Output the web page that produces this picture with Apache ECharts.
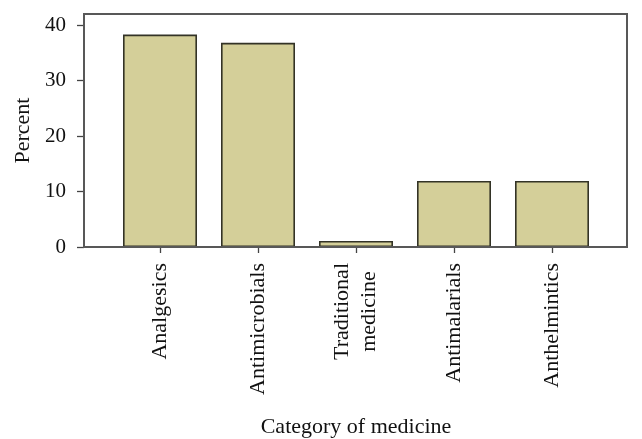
<!DOCTYPE html>
<html>
<head>
<meta charset="utf-8">
<script src="https://cdn.jsdelivr.net/npm/echarts@6/dist/echarts.min.js"></script>
<style>html,body{margin:0;padding:0;background:#fff;}#c{width:642px;height:439px;}</style>
</head>
<body>
<div id="c"></div>
<script>
const categories = ['Analgesics', 'Antimicrobials', 'Traditional\nmedicine', 'Antimalarials', 'Anthelmintics'];
const percentValues = [38.3, 36.8, 1.1, 11.9, 11.9];
const yTicks = [0, 10, 20, 30, 40];

const FONT = '"Liberation Serif", "DejaVu Serif", serif';
const chart = echarts.init(document.getElementById('c'), null, {renderer: 'canvas'});
chart.setOption({
  animation: false,
  backgroundColor: '#fff',
  grid: [
    {left: 84, top: 14, width: 543, height: 233, show: true, borderColor: '#585858', borderWidth: 2, backgroundColor: 'transparent', z: 3, outerBoundsMode: 'none', containLabel: false},
    {left: 111, top: 14, width: 490, height: 233, outerBoundsMode: 'none', containLabel: false}
  ],
  xAxis: [
    {gridIndex: 0, type: 'value', show: false, min: 0, max: 1},
    {
      gridIndex: 1, type: 'category', data: categories,
      axisLine: {show: false},
      axisTick: {show: true, alignWithLabel: true, length: 6, lineStyle: {color: '#444', width: 1.3}},
      axisLabel: {
        rotate: 90, margin: 16, color: '#111', fontFamily: FONT, fontSize: 22, lineHeight: 27,
        formatter: function (v) { return v.split('\n').map(s => '{a|' + s + '}').join('\n'); },
        rich: {a: {align: 'center', fontFamily: FONT, fontSize: 22, color: '#111', lineHeight: 27}}
      },
      name: 'Category of medicine', nameLocation: 'middle', nameGap: 169,
      nameTextStyle: {fontFamily: FONT, fontSize: 22, color: '#111'}
    }
  ],
  yAxis: [
    {
      gridIndex: 0, type: 'value', min: 0, max: 42, interval: 10,
      axisLine: {show: false},
      splitLine: {show: false},
      axisTick: {show: true, length: 7, customValues: yTicks, lineStyle: {color: '#444', width: 1.3}},
      axisLabel: {margin: 18, color: '#111', fontFamily: FONT, fontSize: 21, customValues: yTicks},
      name: 'Percent', nameLocation: 'middle', nameGap: 49,
      nameTextStyle: {fontFamily: FONT, fontSize: 22, color: '#111'}
    },
    {gridIndex: 1, type: 'value', min: 0, max: 42, show: false}
  ],
  series: [{
    type: 'bar', xAxisIndex: 1, yAxisIndex: 1, data: percentValues,
    barCategoryGap: '24.5%',
    itemStyle: {color: '#d4cf99', borderColor: '#333326', borderWidth: 1.6}
  }]
});
</script>
</body>
</html>
